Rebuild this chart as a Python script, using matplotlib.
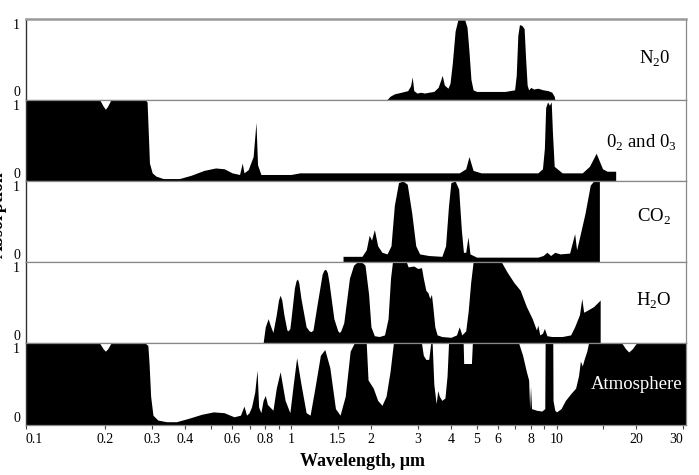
import matplotlib.pyplot as plt
from matplotlib.ticker import FixedLocator, NullFormatter

# Absorption spectra: wavelength (um) and absorption (0-1)
n2o_um = [2.30, 2.36, 2.45, 2.60, 2.75, 2.82, 2.86, 2.90, 2.98, 3.08, 3.18, 3.30, 3.45, 3.58,
          3.67, 3.71, 3.78, 3.90, 3.97, 4.05, 4.15, 4.25, 4.35, 4.50, 4.60, 4.68, 4.76, 4.85,
          5.00, 5.60, 6.40, 6.95, 7.05, 7.15, 7.25, 7.40, 7.55, 7.65, 7.75, 7.85, 8.00, 8.20,
          8.50, 8.90, 9.30, 9.60, 9.80, 9.85]
n2o_abs = [0.00, 0.04, 0.07, 0.09, 0.11, 0.17, 0.28, 0.11, 0.08, 0.09, 0.08, 0.09, 0.10, 0.15,
           0.25, 0.30, 0.18, 0.14, 0.20, 0.45, 0.85, 0.99, 1.00, 1.00, 0.90, 0.60, 0.25, 0.12,
           0.10, 0.10, 0.10, 0.12, 0.30, 0.80, 0.93, 0.92, 0.88, 0.50, 0.18, 0.12, 0.15, 0.13,
           0.14, 0.12, 0.11, 0.09, 0.04, 0.00]

o2o3_um = [0.10, 0.190, 0.196, 0.200, 0.204, 0.210, 0.282, 0.287, 0.290, 0.293, 0.300, 0.310,
           0.330, 0.380, 0.420, 0.470, 0.520, 0.560, 0.600, 0.640, 0.655, 0.665, 0.690, 0.720,
           0.738, 0.748, 0.770, 1.00, 1.08, 2.00, 4.30, 4.55, 4.68, 4.85, 5.20, 8.50, 8.85, 9.00,
           9.10, 9.25, 9.40, 9.55, 9.65, 9.80, 10.5, 12.5, 13.3, 14.1, 14.9, 15.5, 16.7, 16.7]
o2o3_abs = [1.00, 1.00, 0.92, 0.88, 0.92, 1.00, 1.00, 0.97, 0.60, 0.22, 0.10, 0.06,
            0.03, 0.03, 0.07, 0.13, 0.16, 0.15, 0.10, 0.08, 0.22, 0.10, 0.14, 0.30,
            0.72, 0.20, 0.08, 0.08, 0.10, 0.10, 0.10, 0.15, 0.30, 0.13, 0.10, 0.10, 0.15, 0.40,
            0.90, 0.97, 0.93, 0.97, 0.60, 0.18, 0.10, 0.10, 0.18, 0.34, 0.15, 0.12, 0.12, 0.00]

co2_um = [1.57, 1.57, 1.85, 1.92, 1.97, 2.01, 2.06, 2.12, 2.20, 2.30, 2.38, 2.45, 2.54, 2.64,
          2.74, 2.85, 2.95, 3.05, 3.30, 3.70, 3.82, 3.92, 4.00, 4.15, 4.28, 4.38, 4.46, 4.55,
          4.64, 4.72, 5.00, 8.50, 8.90, 9.20, 9.50, 9.85, 10.3, 11.2, 11.7, 11.9, 12.2, 12.8,
          13.4, 13.8, 14.5, 14.5]
co2_abs = [0.00, 0.07, 0.07, 0.15, 0.33, 0.27, 0.40, 0.20, 0.12, 0.10, 0.20, 0.70, 0.98, 1.00,
           0.96, 0.60, 0.20, 0.10, 0.08, 0.07, 0.20, 0.70, 0.98, 1.00, 0.90, 0.40, 0.12, 0.12,
           0.31, 0.10, 0.06, 0.06, 0.08, 0.12, 0.08, 0.12, 0.10, 0.11, 0.35, 0.15, 0.30, 0.60,
           0.95, 1.00, 1.00, 0.00]

h2o_um = [0.785, 0.80, 0.82, 0.835, 0.855, 0.88, 0.897, 0.91, 0.923, 0.94, 0.965, 0.975,
          0.99, 1.00, 1.03, 1.045, 1.058, 1.07, 1.09, 1.14, 1.17, 1.19, 1.21, 1.25, 1.31, 1.33,
          1.35, 1.37, 1.39, 1.45, 1.50, 1.52, 1.54, 1.58, 1.66, 1.72, 1.76, 1.80, 1.86, 1.90,
          1.96, 2.00, 2.06, 2.15, 2.25, 2.32, 2.37, 2.41, 2.72, 2.76, 2.90, 3.00, 3.10, 3.15,
          3.22, 3.28, 3.33, 3.38, 3.42, 3.48, 3.55, 3.70, 4.00, 4.20, 4.30, 4.40, 4.55, 4.65,
          4.75, 4.85, 6.20, 6.50, 6.90, 7.30, 7.70, 8.10, 8.40, 8.50, 8.65, 8.85, 9.00, 9.20,
          9.60, 10.5, 11.3, 11.7, 12.2, 12.45, 12.65, 13.0, 13.8, 14.6, 14.6]
h2o_abs = [0.00, 0.20, 0.30, 0.22, 0.13, 0.35, 0.53, 0.59, 0.53, 0.35, 0.16, 0.15,
           0.18, 0.30, 0.68, 0.77, 0.79, 0.74, 0.55, 0.20, 0.15, 0.14, 0.16, 0.45, 0.85, 0.90,
           0.91, 0.87, 0.75, 0.30, 0.15, 0.13, 0.15, 0.25, 0.80, 0.96, 0.99, 1.00, 0.99, 0.96,
           0.60, 0.20, 0.09, 0.08, 0.10, 0.30, 0.80, 1.00, 1.00, 0.94, 0.95, 0.92, 0.93, 0.80,
           0.65, 0.62, 0.55, 0.60, 0.45, 0.20, 0.10, 0.08, 0.07, 0.10, 0.20, 0.10, 0.15, 0.40,
           0.75, 1.00, 1.00, 0.88, 0.75, 0.65, 0.45, 0.30, 0.16, 0.22, 0.10, 0.12, 0.18, 0.09,
           0.08, 0.08, 0.10, 0.20, 0.35, 0.55, 0.38, 0.40, 0.45, 0.53, 0.00]

atm_um = [0.10, 0.190, 0.196, 0.200, 0.204, 0.210, 0.282, 0.289, 0.292, 0.296, 0.302, 0.315,
          0.34, 0.37, 0.41, 0.46, 0.51, 0.56, 0.61, 0.645, 0.665, 0.68, 0.695, 0.71, 0.73,
          0.745, 0.755, 0.77, 0.785, 0.80, 0.815, 0.855, 0.88, 0.91, 0.95, 0.99, 1.02, 1.05,
          1.09, 1.14, 1.18, 1.23, 1.29, 1.34, 1.40, 1.47, 1.53, 1.60, 1.67, 1.73, 1.92, 1.95,
          2.04, 2.12, 2.20, 2.28, 2.36, 2.43, 3.10, 3.15, 3.22, 3.30, 3.36, 3.40, 3.45, 3.52,
          3.57, 3.62, 3.70, 3.80, 3.87, 3.92, 4.45, 4.47, 4.78, 4.82, 7.20, 7.45, 7.70, 7.85,
          7.92, 7.98, 8.05, 8.40, 8.80, 9.03, 9.06, 9.68, 9.70, 9.85, 10.0, 10.4, 10.8, 11.3,
          11.8, 12.1, 12.3, 12.5, 12.7, 13.0, 13.2, 17.6, 18.2, 18.7, 19.3, 20.0, 30.6]
atm_abs = [1.00, 1.00, 0.93, 0.90, 0.93, 1.00, 1.00, 0.97, 0.75, 0.35, 0.12, 0.06,
           0.04, 0.04, 0.08, 0.13, 0.16, 0.15, 0.10, 0.12, 0.23, 0.12, 0.15, 0.22, 0.40,
           0.67, 0.22, 0.15, 0.30, 0.36, 0.25, 0.18, 0.45, 0.65, 0.30, 0.15, 0.50, 0.82,
           0.50, 0.15, 0.12, 0.45, 0.85, 0.92, 0.70, 0.20, 0.12, 0.35, 0.90, 1.00, 1.00, 0.55,
           0.45, 0.30, 0.24, 0.35, 0.65, 1.00, 1.00, 0.85, 0.80, 0.80, 1.00, 1.00, 0.50, 0.26,
           0.42, 0.35, 0.30, 0.33, 0.60, 1.00, 1.00, 0.75, 0.75, 1.00, 1.00, 0.85, 0.65, 0.55,
           0.20, 0.47, 0.20, 0.18, 0.17, 0.20, 1.00, 1.00, 0.30, 0.18, 0.16, 0.20, 0.30, 0.38,
           0.45, 0.60, 0.78, 0.72, 0.80, 0.90, 1.00, 1.00, 0.93, 0.89, 0.93, 1.00, 1.00]

spectra = [(n2o_um, n2o_abs), (o2o3_um, o2o3_abs), (co2_um, co2_abs),
           (h2o_um, h2o_abs), (atm_um, atm_abs)]
names = [r'N$_\mathregular{2}$0', r'0$_\mathregular{2}$ and 0$_\mathregular{3}$',
         r'CO$_\mathregular{2}$', r'H$_\mathregular{2}$O', 'Atmosphere']

major_ticks = [0.1, 0.2, 0.3, 0.4, 0.6, 0.8, 1, 1.5, 2, 3, 4, 5, 6, 8, 10, 20, 30]
major_labels = ['0.1', '0.2', '0.3', '0.4', '0.6', '0.8', '1', '1.5', '2', '3', '4',
                '5', '6', '8', '10', '20', '30']
minor_ticks = [0.5, 0.7, 0.9, 7, 9, 15]

plt.rcParams['font.family'] = 'Liberation Serif'

W, H = 699, 475
fig = plt.figure(figsize=(W / 100, H / 100), dpi=100)

# panel edges in pixels (top to bottom)
edges = [19, 99.5, 181, 262, 343, 425]
left, right = 25.5, 685.5
# label anchor (x center, baseline y) in pixels
label_pos = [(655, 64), (641, 148), (654, 222), (654, 306), (637, 389)]

for i, (um, ab) in enumerate(spectra):
    top, bot = edges[i], edges[i + 1]
    ax = fig.add_axes([left / W, 1 - bot / H, (right - left) / W, (bot - top) / H])
    ax.fill_between(um, ab, 0, color='black', lw=0)
    ax.set_xscale('log')
    ax.set_xlim(0.1, 30.6)
    ax.set_ylim(0, 1)

    ax.set_yticks([0, 1])
    ax.set_yticklabels(['0', '1'])
    ax.tick_params(axis='y', length=0, pad=4, labelsize=10)
    ylabs = ax.get_yticklabels()
    ylabs[0].set_va('bottom')
    ylabs[1].set_va('top')

    for s in ['top', 'bottom', 'right']:
        ax.spines[s].set_color('#888888')
        ax.spines[s].set_linewidth(0.9)
    ax.spines['left'].set_color('#333333')
    ax.spines['left'].set_linewidth(1.0)
    if i == 0:
        ax.spines['top'].set_linewidth(1.8)
        ax.spines['top'].set_color('#999999')

    if i < 4:
        ax.tick_params(axis='x', which='both', bottom=False, labelbottom=False)
    else:
        ax.set_xticks(major_ticks)
        ax.set_xticklabels(major_labels)
        ax.xaxis.set_minor_locator(FixedLocator(minor_ticks))
        ax.xaxis.set_minor_formatter(NullFormatter())
        ax.tick_params(axis='x', which='both', length=3, width=0.8, color='#444444',
                       pad=3, labelsize=10)
        xlabs = ax.get_xticklabels()
        xlabs[0].set_ha('left')
        xlabs[-1].set_ha('right')

    x, y = label_pos[i]
    fig.text(x / W, 1 - y / H, names[i], ha='center', va='baseline', fontsize=13.5,
             color='white' if i == 4 else 'black')

fig.text(362 / W, 1 - 462 / H, 'Wavelength, μm', ha='center', va='center',
         fontsize=13, fontweight='bold')
# y label sits mostly past the left edge, as in the source figure
fig.text(7 / W, 1 - 215 / H, 'Absorption', rotation=90, ha='right', va='center',
         fontsize=13, fontweight='bold')

fig.savefig('out.png', dpi=100)
